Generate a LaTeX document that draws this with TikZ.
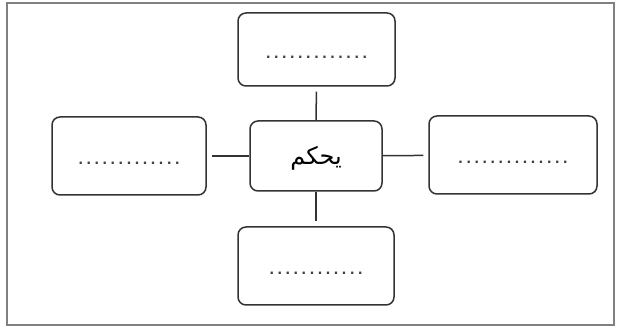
\documentclass[tikz,border=0pt]{standalone}
\usepackage{fontspec}
\setmainfont{Liberation Sans}
\newfontfamily\arabicfont[Script=Arabic]{DejaVu Sans}
\TeXXeTstate=1
\newcommand{\dotrow}[1]{\foreach \d in {1,...,#1}{.\hspace{3.6pt}}\unskip}

\begin{document}
\begin{tikzpicture}[x=1pt,y=-1pt,
    box/.style={draw=black!80,line width=1.5pt,rounded corners=8pt,inner sep=0pt,text height=18pt,text depth=0pt,font=\fontsize{16}{18}\bfseries\color{black!75}},
    link/.style={draw=black!80,line width=1.5pt,shorten >=5pt}]
  \useasboundingbox (0,0) rectangle (618,328);
  \draw[gray,line width=1.2pt] (7,3) rectangle (614,325);
  \node[box,minimum width=132pt,minimum height=70pt,font=\arabicfont\fontsize{24}{28}\selectfont] (verb) at (316,156) {\beginR يحكم\endR};
  \foreach \n/\x/\y/\w/\h/\k in {tbox/316.5/49.5/157/73/13,lbox/129/156/154/78/13,rbox/513/155/168/78/14,bbox/316/266/156/78/12} {
    \node[box,minimum width=\w pt,minimum height=\h pt] (\n) at (\x,\y) {\dotrow{\k}};
    \draw[link] (verb) -- (\n);
  }
\end{tikzpicture}
\end{document}
